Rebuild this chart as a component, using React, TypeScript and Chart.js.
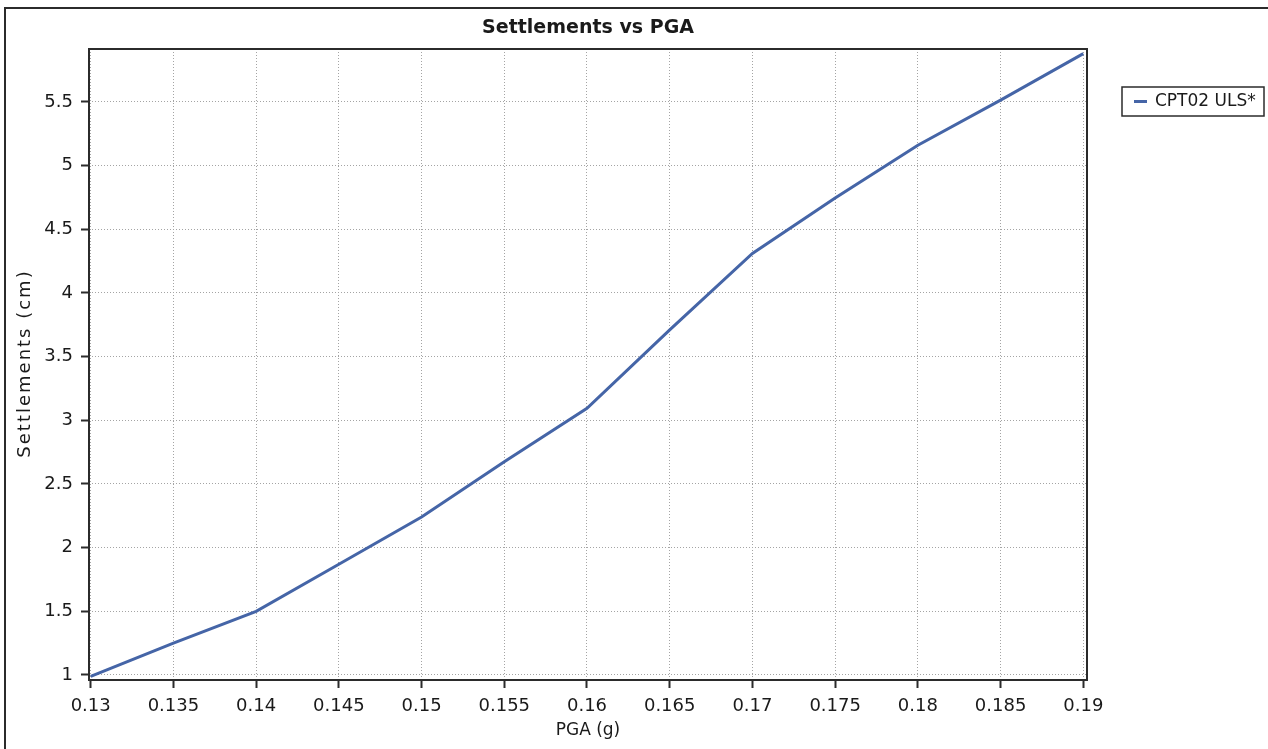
import { useEffect, useRef } from "react";
import { Chart, registerables } from "chart.js";

Chart.register(...registerables);

// Settlement vs peak ground acceleration, one series
const pgaValues = [0.13, 0.135, 0.14, 0.145, 0.15, 0.155, 0.16, 0.165, 0.17, 0.175, 0.18, 0.185, 0.19];
const settlementValues = [0.99, 1.25, 1.5, 1.87, 2.24, 2.675, 3.095, 3.71, 4.31, 4.745, 5.16, 5.515, 5.88];

const pgaTicks = [0.13, 0.135, 0.14, 0.145, 0.15, 0.155, 0.16, 0.165, 0.17, 0.175, 0.18, 0.185, 0.19];
const pgaTickLabels = ["0.13", "0.135", "0.14", "0.145", "0.15", "0.155", "0.16", "0.165", "0.17", "0.175", "0.18", "0.185", "0.19"];
const settlementTicks = [1, 1.5, 2, 2.5, 3, 3.5, 4, 4.5, 5, 5.5];
const settlementTickLabels = ["1", "1.5", "2", "2.5", "3", "3.5", "4", "4.5", "5", "5.5"];

const pgaRange = [0.129897, 0.190224];
const settlementRange = [0.9607, 5.916];

const seriesLabel = "CPT02 ULS*";
const chartTitle = "Settlements vs PGA";
const xAxisTitle = "PGA (g)";
const yAxisTitle = "Settlements (cm)";

const FONT = "'DejaVu Sans', sans-serif";
const LINE_COLOR = "#4565a7";
const FRAME_COLOR = "#2b2b2b";
const GRID_COLOR = "#a4a4a4";
const TEXT_COLOR = "#1a1a1a";

// Plot frame, centred title, rotated y-axis title and a boxed legend on the right
const decorPlugin = {
  id: "decor",
  afterDraw(chart: any) {
    const { ctx, chartArea: a } = chart;
    ctx.save();
    ctx.strokeStyle = FRAME_COLOR;
    ctx.lineWidth = 2;
    ctx.strokeRect(a.left, a.top, a.right - a.left, a.bottom - a.top);

    ctx.fillStyle = TEXT_COLOR;
    ctx.font = `bold 19px ${FONT}`;
    ctx.textAlign = "center";
    ctx.textBaseline = "middle";
    ctx.fillText(chartTitle, (a.left + a.right) / 2, 28);

    // y-axis title, slightly tracked out
    ctx.save();
    ctx.translate(25, (a.top + a.bottom) / 2);
    ctx.rotate(-Math.PI / 2);
    ctx.font = `18px ${FONT}`;
    (ctx as any).letterSpacing = "2px";
    ctx.textAlign = "center";
    ctx.textBaseline = "middle";
    ctx.fillText(yAxisTitle, 1, 0);
    ctx.restore();

    const ds = chart.data.datasets[0];
    const lx = a.right + 35;
    const ly = 87;
    ctx.lineWidth = 1.5;
    ctx.strokeStyle = FRAME_COLOR;
    ctx.fillStyle = "#ffffff";
    ctx.fillRect(lx, ly, 142, 29);
    ctx.strokeRect(lx, ly, 142, 29);
    ctx.strokeStyle = ds.borderColor;
    ctx.lineWidth = 3;
    ctx.beginPath();
    ctx.moveTo(lx + 12, ly + 14.5);
    ctx.lineTo(lx + 25, ly + 14.5);
    ctx.stroke();
    ctx.fillStyle = TEXT_COLOR;
    ctx.font = `17px ${FONT}`;
    ctx.textAlign = "left";
    ctx.textBaseline = "middle";
    ctx.fillText(ds.label, lx + 33, ly + 15);
    ctx.restore();
  },
};

export default function App() {
  const canvasRef = useRef<HTMLCanvasElement | null>(null);

  useEffect(() => {
    const canvas = canvasRef.current;
    if (!canvas) return;
    const chart = new Chart(canvas, {
      type: "line",
      data: {
        datasets: [
          {
            label: seriesLabel,
            data: pgaValues.map((x, i) => ({ x, y: settlementValues[i] })),
            borderColor: LINE_COLOR,
            backgroundColor: LINE_COLOR,
            borderWidth: 3,
            pointRadius: 0,
            tension: 0,
            fill: false,
          },
        ],
      },
      options: {
        responsive: false,
        maintainAspectRatio: false,
        animation: false,
        devicePixelRatio: 1,
        layout: { padding: { top: 49, right: 181, left: 0, bottom: 0 } },
        plugins: {
          legend: { display: false },
          title: { display: false },
          tooltip: { enabled: false },
        },
        scales: {
          x: {
            type: "linear",
            min: pgaRange[0],
            max: pgaRange[1],
            afterFit: (scale: any) => {
              scale.height = 69;
            },
            afterBuildTicks: (scale: any) => {
              scale.ticks = pgaTicks.map((value) => ({ value }));
            },
            ticks: {
              autoSkip: false,
              maxRotation: 0,
              padding: 8,
              color: TEXT_COLOR,
              font: { family: FONT, size: 18 },
              callback: (_v: any, i: number) => pgaTickLabels[i],
            },
            grid: {
              color: GRID_COLOR,
              lineWidth: 1,
              tickLength: 8,
              tickColor: FRAME_COLOR,
              tickWidth: 2,
            },
            border: { display: false, dash: [1, 2] },
            title: {
              display: true,
              text: xAxisTitle,
              color: TEXT_COLOR,
              font: { family: FONT, size: 17 },
              padding: { top: 0, bottom: 8 },
            },
          },
          y: {
            type: "linear",
            min: settlementRange[0],
            max: settlementRange[1],
            afterFit: (scale: any) => {
              scale.width = 89;
            },
            afterBuildTicks: (scale: any) => {
              scale.ticks = settlementTicks.map((value) => ({ value }));
            },
            ticks: {
              autoSkip: false,
              padding: 8,
              color: TEXT_COLOR,
              font: { family: FONT, size: 18 },
              callback: (_v: any, i: number) => settlementTickLabels[i],
            },
            grid: {
              color: GRID_COLOR,
              lineWidth: 1,
              tickLength: 8,
              tickColor: FRAME_COLOR,
              tickWidth: 2,
            },
            border: { display: false, dash: [1, 2] },
            title: { display: false },
          },
        },
      },
      plugins: [decorPlugin],
    });
    return () => chart.destroy();
  }, []);

  return (
    <div
      style={{
        position: "fixed",
        left: 0,
        top: 0,
        width: 1268,
        height: 749,
        overflow: "hidden",
        background: "#ffffff",
      }}
    >
      <div
        style={{
          position: "absolute",
          left: 4,
          top: 7,
          width: 1400,
          height: 900,
          border: `2px solid ${FRAME_COLOR}`,
          boxSizing: "border-box",
        }}
      />
      <canvas
        ref={canvasRef}
        width={1268}
        height={749}
        style={{ position: "absolute", left: 0, top: 0, display: "block", width: 1268, height: 749 }}
      />
    </div>
  );
}
